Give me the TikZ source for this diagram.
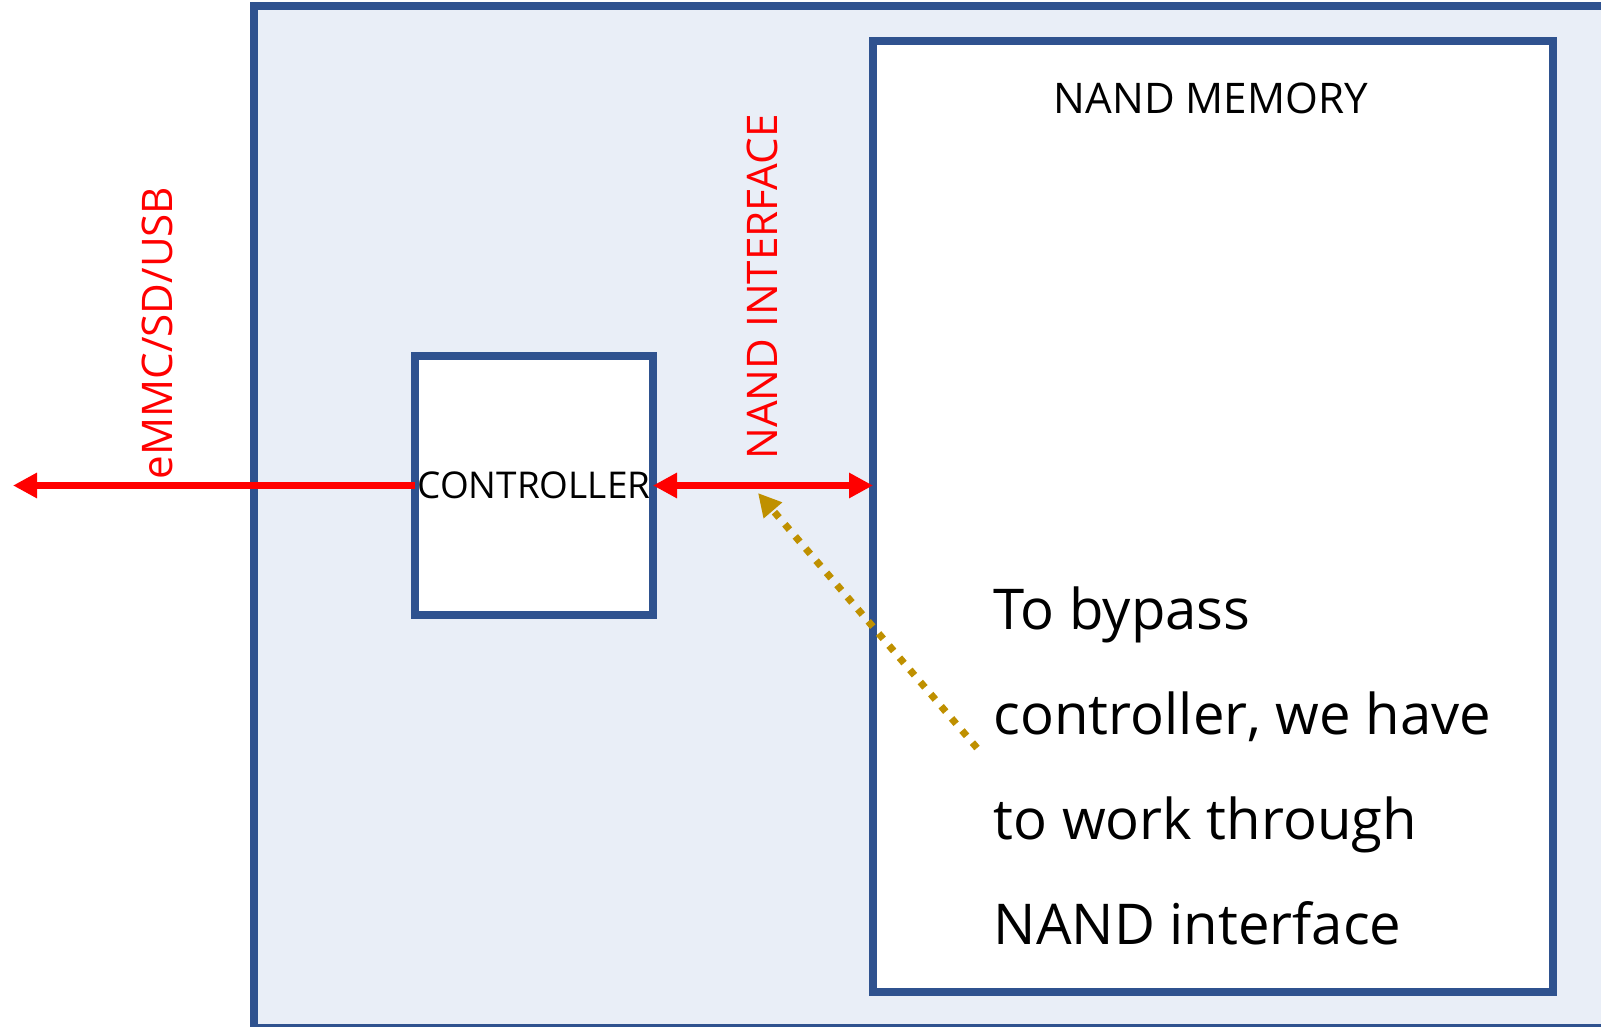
\documentclass[tikz,border=0pt]{standalone}
\usepackage{fontspec}
\setmainfont{Open Sans}
\usetikzlibrary{arrows.meta}
\definecolor{boxblue}{HTML}{2F528F}
\definecolor{boardfill}{HTML}{E9EEF7}
\definecolor{hintgold}{HTML}{BF9000}

\begin{document}
\begin{tikzpicture}[
    blockbox/.style={draw=boxblue, line width=2.3pt, fill=white, inner sep=0pt, outer sep=0pt},
    busline/.style={draw=red, line width=2pt},
    buslabel/.style={text=red, font=\fontsize{12}{14}\selectfont, rotate=90}
]
\useasboundingbox (0,0) rectangle (16.01,10.27);
\clip (0,0) rectangle (16.01,10.27);

% board outline
\filldraw[draw=boxblue, fill=boardfill, line width=2.3pt] (2.54,10.21) rectangle (16.2,-0.01);

\node[blockbox, minimum width=2.38cm, minimum height=2.59cm] (ctrl) at (5.34,5.415) {\fontsize{10.5}{12}\selectfont CONTROLLER};
\node[blockbox, minimum width=6.80cm, minimum height=9.51cm] (nand) at (12.13,5.105) {};
\node[font=\fontsize{12}{14}\selectfont] (memlabel) at (12.11,9.29) {NAND MEMORY};

% buses
\coordinate (hostend) at (0.13,5.415);
\draw[busline, -{Triangle[length=0.24cm,width=0.24cm]}] (ctrl.west) -- (hostend);
\draw[busline, {Triangle[length=0.24cm,width=0.24cm]}-{Triangle[length=0.24cm,width=0.24cm]}] (ctrl.east) -- (ctrl.east -| nand.west);

\node[buslabel] (hostlabel) at (1.57,6.94) {eMMC/SD/USB};
\node[buslabel] (ifacelabel) at (7.62,7.40) {NAND INTERFACE};

% note
\node[anchor=base west, align=left, inner sep=0pt, font=\fontsize{16}{29.9}\selectfont] (hint) at (9.93,0.82)
    {To bypass\\controller, we have\\to work through\\NAND interface};

\coordinate (hintstart) at (9.77,2.79);
\coordinate (hinttip)   at (7.58,5.34);
\draw[hintgold, line width=2pt, dash pattern=on 2pt off 2.55pt,
      -{Triangle[length=0.23cm,width=0.23cm]}] (hintstart) -- (hinttip);
\end{tikzpicture}
\end{document}
